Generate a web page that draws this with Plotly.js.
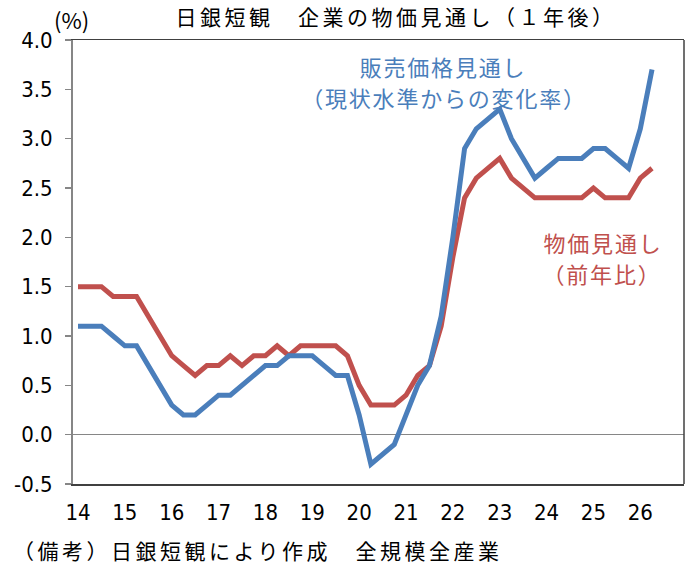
<!DOCTYPE html>
<html>
<head>
<meta charset="utf-8">
<script src="https://cdn.plot.ly/plotly-3.0.1.min.js"></script>
<style>
  html, body { margin: 0; padding: 0; background: #ffffff; }
  #chart { width: 687px; height: 565px; }
  #chart .gtitle { letter-spacing: 3.5px; }
  #chart g.annotation[data-index="1"] text,
  #chart g.annotation[data-index="2"] text,
  #chart g.annotation[data-index="3"] text,
  #chart g.annotation[data-index="4"] text { letter-spacing: 1.8px; }
  #chart g.annotation[data-index="5"] text { letter-spacing: 3.5px; }
</style>
</head>
<body>
<div id="chart"></div>
<script>
// Survey quarters (BOJ Tankan)
const quarters = [];
for (let y = 2014; y <= 2026; y++) {
  for (let q = 1; q <= 4; q++) {
    if (quarters.length < 50) quarters.push(y + "Q" + q);
  }
}

// 販売価格見通し（現状水準からの変化率） 1年後, %
const salesPrice = [
  1.1, 1.1, 1.1, 1.0, 0.9, 0.9, 0.7, 0.5, 0.3, 0.2,
  0.2, 0.3, 0.4, 0.4, 0.5, 0.6, 0.7, 0.7, 0.8, 0.8,
  0.8, 0.7, 0.6, 0.6, 0.2, -0.3, -0.2, -0.1, 0.2, 0.5,
  0.7, 1.2, 2.0, 2.9, 3.1, 3.2, 3.3, 3.0, 2.8, 2.6,
  2.7, 2.8, 2.8, 2.8, 2.9, 2.9, 2.8, 2.7, 3.1, 3.7
];

// 物価見通し（前年比） 1年後, %
const generalPrice = [
  1.5, 1.5, 1.5, 1.4, 1.4, 1.4, 1.2, 1.0, 0.8, 0.7,
  0.6, 0.7, 0.7, 0.8, 0.7, 0.8, 0.8, 0.9, 0.8, 0.9,
  0.9, 0.9, 0.9, 0.8, 0.5, 0.3, 0.3, 0.3, 0.4, 0.6,
  0.7, 1.1, 1.8, 2.4, 2.6, 2.7, 2.8, 2.6, 2.5, 2.4,
  2.4, 2.4, 2.4, 2.4, 2.5, 2.4, 2.4, 2.4, 2.6, 2.7
];

const xTickVals = ["2014Q1","2015Q1","2016Q1","2017Q1","2018Q1","2019Q1","2020Q1",
                   "2021Q1","2022Q1","2023Q1","2024Q1","2025Q1","2026Q1"];
const xTickText = ["14","15","16","17","18","19","20","21","22","23","24","25","26"];
const yTickVals = [-0.5, 0.0, 0.5, 1.0, 1.5, 2.0, 2.5, 3.0, 3.5, 4.0];
const yTickText = ["-0.5","0.0","0.5","1.0","1.5","2.0","2.5","3.0","3.5","4.0"];

const BLUE = "#4a7ebb";
const RED = "#c0504d";
const CJK = "'Noto Sans CJK JP', sans-serif";
const NUM = "'Liberation Sans Narrow', 'DejaVu Sans Condensed', sans-serif";

// plot area in pixels
const L = 73, R = 684, T = 40, B = 484;
const px = x => (x - L) / (R - L);
const py = y => (B - y) / (B - T);

const traces = [
  {
    x: quarters, y: generalPrice, type: "scatter", mode: "lines",
    line: { color: RED, width: 5 }, hoverinfo: "x+y"
  },
  {
    x: quarters, y: salesPrice, type: "scatter", mode: "lines",
    line: { color: BLUE, width: 5 }, hoverinfo: "x+y"
  }
];

const layout = {
  width: 687, height: 565,
  margin: { l: L, r: 687 - R, t: T, b: 565 - B, pad: 0 },
  paper_bgcolor: "#ffffff", plot_bgcolor: "#ffffff",
  showlegend: false,
  title: {
    text: "日銀短観　企業の物価見通し（１年後）",
    font: { family: CJK, size: 21, color: "#000000" },
    x: 396 / 687, xanchor: "center", xref: "container",
    y: 1 - 18 / 565, yanchor: "middle", yref: "container"
  },
  xaxis: {
    type: "category",
    range: [-0.427, 51.73],
    tickmode: "array", tickvals: xTickVals, ticktext: xTickText,
    ticks: "outside", ticklen: 8, tickcolor: "rgba(0,0,0,0)",
    tickfont: { family: NUM, size: 22, color: "#000000" },
    showgrid: false, zeroline: false,
    showline: true, mirror: true, linecolor: "#404040", linewidth: 1.5
  },
  yaxis: {
    range: [-0.5, 4.0],
    tickmode: "array", tickvals: yTickVals, ticktext: yTickText,
    ticks: "outside", ticklen: 6, tickwidth: 1.5, tickcolor: "#868686",
    ticklabelstandoff: 8,
    tickfont: { family: NUM, size: 22, color: "#000000" },
    showgrid: false,
    zeroline: true, zerolinecolor: "#868686", zerolinewidth: 1.5,
    showline: true, linecolor: "#868686", linewidth: 2
  },
  shapes: [
    { type: "line", xref: "paper", yref: "paper", x0: 1, x1: 1, y0: 0, y1: 1,
      line: { color: "#404040", width: 1.5 } }
  ],
  annotations: [
    { text: "(%)", xref: "paper", yref: "paper", x: px(71), y: py(19),
      xanchor: "center", yanchor: "middle", showarrow: false,
      font: { family: CJK, size: 22, color: "#000000" } },
    { text: "販売価格見通し", xref: "paper", yref: "paper", x: px(443), y: py(66),
      xanchor: "center", yanchor: "middle", showarrow: false,
      font: { family: CJK, size: 22, color: BLUE } },
    { text: "（現状水準からの変化率）", xref: "paper", yref: "paper", x: px(444), y: py(97),
      xanchor: "center", yanchor: "middle", showarrow: false,
      font: { family: CJK, size: 22, color: BLUE } },
    { text: "物価見通し", xref: "paper", yref: "paper", x: px(603), y: py(242),
      xanchor: "center", yanchor: "middle", showarrow: false,
      font: { family: CJK, size: 22, color: RED } },
    { text: "（前年比）", xref: "paper", yref: "paper", x: px(602), y: py(273),
      xanchor: "center", yanchor: "middle", showarrow: false,
      font: { family: CJK, size: 22, color: RED } },
    { text: "（備考）日銀短観により作成　全規模全産業", xref: "paper", yref: "paper",
      x: px(258), y: py(550), xanchor: "center", yanchor: "middle", showarrow: false,
      font: { family: CJK, size: 21, color: "#000000" } }
  ]
};

Plotly.newPlot("chart", traces, layout, { displayModeBar: false, staticPlot: true });
</script>
</body>
</html>
